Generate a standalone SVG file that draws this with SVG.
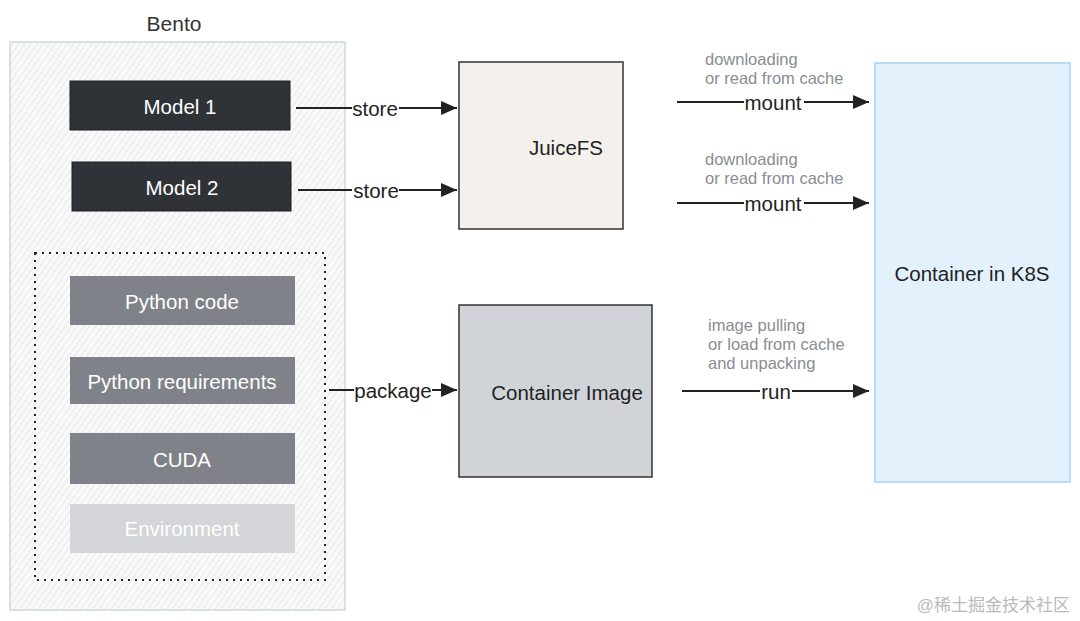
<svg xmlns="http://www.w3.org/2000/svg" width="1080" height="621" viewBox="0 0 1080 621">
<defs>
<pattern id="hatch" width="5" height="5" patternUnits="userSpaceOnUse" patternTransform="rotate(35)">
<rect width="5" height="5" fill="#f8f9f9"/>
<line x1="0" y1="0" x2="0" y2="5" stroke="#d6dadd" stroke-width="1"/>
</pattern>
<marker id="arr" viewBox="0 0 10 10" refX="10" refY="5" markerWidth="16" markerHeight="14" markerUnits="userSpaceOnUse" orient="auto" preserveAspectRatio="none">
<path d="M0,0 L10,5 L0,10 z" fill="#222"/>
</marker>
</defs>
<style>
text{font-family:"Liberation Sans",Arial,Helvetica,sans-serif}
.lbl{font-size:20.5px;fill:#fff;text-anchor:middle;dominant-baseline:central}
.dark{fill:#2f3338;stroke:#1c1f22;stroke-width:1}
.mid{fill:#7f8389}
.conn{stroke:#222;stroke-width:2;fill:none;marker-end:url(#arr)}
.el{font-size:20.5px;fill:#222;text-anchor:middle;dominant-baseline:central}
.note{font-size:16.5px;fill:#8a8d91}
</style>
<rect width="1080" height="621" fill="#fff"/>
<g id="bento">
<text x="174" y="23" font-size="21" fill="#333" text-anchor="middle" dominant-baseline="central">Bento</text>
<rect x="10" y="42" width="335" height="568" fill="url(#hatch)" stroke="#d3d8dc" stroke-width="1.5"/>
<rect x="35" y="253" width="290" height="327" fill="none" stroke="#222" stroke-width="2" stroke-dasharray="2,5"/>
</g>
<g id="model1"><rect class="dark" x="70" y="81" width="220" height="49"/><text class="lbl" x="180" y="106">Model 1</text></g>
<g id="model2"><rect class="dark" x="72" y="162" width="219" height="49"/><text class="lbl" x="182" y="187">Model 2</text></g>
<g id="pycode"><rect class="mid" x="70" y="276" width="225" height="49"/><text class="lbl" x="182" y="301">Python code</text></g>
<g id="pyreq"><rect class="mid" x="70" y="357" width="225" height="47"/><text class="lbl" x="182" y="381">Python requirements</text></g>
<g id="cuda"><rect class="mid" x="70" y="433" width="225" height="51"/><text class="lbl" x="182" y="459">CUDA</text></g>
<g id="env"><rect fill="#d3d5d8" x="70" y="504" width="225" height="49"/><text class="lbl" x="182" y="528">Environment</text></g>
<g id="juicefs"><rect x="459" y="62" width="164" height="167" fill="#f5f0ec" stroke="#333" stroke-width="1.5"/><text class="el" x="566" y="147">JuiceFS</text></g>
<g id="image"><rect x="459" y="305" width="193" height="172" fill="#d0d3d8" stroke="#333" stroke-width="1.5"/><text class="el" x="567" y="392">Container Image</text></g>
<g id="k8s"><rect x="875" y="63" width="195" height="419" fill="#e3f1fc" stroke="#a9d3f3" stroke-width="1.5"/><text class="el" x="972" y="273">Container in K8S</text></g>
<g id="connectors">
<path class="conn" d="M296,108 H457"/>
<path class="conn" d="M298,190 H457"/>
<path class="conn" d="M329,390 H457"/>
<path class="conn" d="M677,102 H869"/>
<path class="conn" d="M677,203 H869"/>
<path class="conn" d="M682,391 H869"/>
<rect x="352" y="98" width="47" height="22" fill="#fff"/>
<text class="el" x="375" y="108">store</text>
<rect x="352" y="180" width="47" height="22" fill="#fff"/>
<text class="el" x="376" y="190">store</text>
<rect x="354" y="380" width="78" height="22" fill="#fff"/>
<text class="el" x="393" y="390">package</text>
<rect x="744" y="92" width="60" height="22" fill="#fff"/>
<text class="el" x="773" y="102">mount</text>
<rect x="744" y="193" width="60" height="22" fill="#fff"/>
<text class="el" x="773" y="203">mount</text>
<rect x="760" y="381" width="32" height="22" fill="#fff"/>
<text class="el" x="776" y="391">run</text>
<text class="note" x="705" y="65">downloading</text>
<text class="note" x="705" y="84">or read from cache</text>
<text class="note" x="705" y="165">downloading</text>
<text class="note" x="705" y="184">or read from cache</text>
<text class="note" x="708" y="331">image pulling</text>
<text class="note" x="708" y="350">or load from cache</text>
<text class="note" x="708" y="369">and unpacking</text>
</g>
<text x="1070" y="611" font-size="17" fill="#b8babc" text-anchor="end" style="font-family:'Liberation Sans','Noto Sans CJK SC',sans-serif">@稀土掘金技术社区</text>
</svg>
